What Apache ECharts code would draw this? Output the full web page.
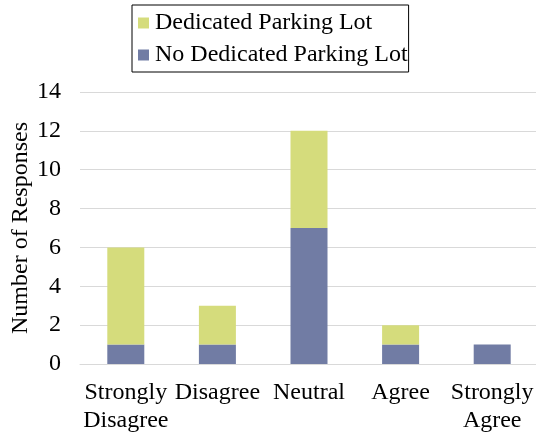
<!DOCTYPE html>
<html>
<head>
<meta charset="utf-8">
<script src="https://cdn.jsdelivr.net/npm/echarts@6/dist/echarts.min.js"></script>
<style>
html,body{margin:0;padding:0;background:#fff;}
#chart{width:536px;height:433px;}
</style>
</head>
<body>
<div id="chart"></div>
<script>
var categories = ['Strongly\nDisagree', 'Disagree', 'Neutral', 'Agree', 'Strongly\nAgree'];
var noDedicated = [1, 1, 7, 1, 1];
var dedicated = [5, 2, 5, 1, 0];
var yTicks = {min: 0, max: 14, interval: 2};

var colors = ['#717ca4', '#d5dc7c'];
var fontFam = '"Liberation Serif", "Times New Roman", serif';

var chart = echarts.init(document.getElementById('chart'));
chart.setOption({
	animation: false,
	textStyle: {fontFamily: fontFam},
	legend: {
		orient: 'vertical',
		left: 132,
		top: 5,
		data: ['Dedicated Parking Lot', 'No Dedicated Parking Lot'],
		borderColor: '#000',
		borderWidth: 1,
		padding: [6, 1, 5, 6],
		itemWidth: 11,
		itemHeight: 11,
		itemGap: 8,
		icon: 'rect',
		textStyle: {fontFamily: fontFam, fontSize: 24, lineHeight: 24, color: '#000', padding: [0, 0, 0, 1]}
	},
	grid: {left: 80, width: 458, top: 92, bottom: 69, outerBoundsMode: 'none'},
	xAxis: {
		type: 'category',
		data: categories,
		axisLine: {show: true, lineStyle: {color: '#d9d9d9'}},
		axisTick: {show: false},
		axisLabel: {
			fontFamily: fontFam, fontSize: 24, color: '#000',
			margin: 15, lineHeight: 28, interval: 0
		}
	},
	yAxis: {
		type: 'value',
		min: yTicks.min,
		max: yTicks.max,
		interval: yTicks.interval,
		name: 'Number of Responses',
		nameLocation: 'middle',
		nameGap: 47,
		nameMoveOverlap: false,
		nameTextStyle: {fontFamily: fontFam, fontSize: 24, color: '#000'},
		axisLine: {show: false},
		axisTick: {show: false},
		axisLabel: {fontFamily: fontFam, fontSize: 24, color: '#000', margin: 19},
		splitLine: {lineStyle: {color: '#d9d9d9'}}
	},
	series: [{
		name: 'No Dedicated Parking Lot',
		type: 'bar',
		stack: 'total',
		barWidth: 37,
		itemStyle: {color: colors[0]},
		data: noDedicated
	}, {
		name: 'Dedicated Parking Lot',
		type: 'bar',
		stack: 'total',
		barWidth: 37,
		itemStyle: {color: colors[1]},
		data: dedicated
	}]
});
</script>
</body>
</html>
